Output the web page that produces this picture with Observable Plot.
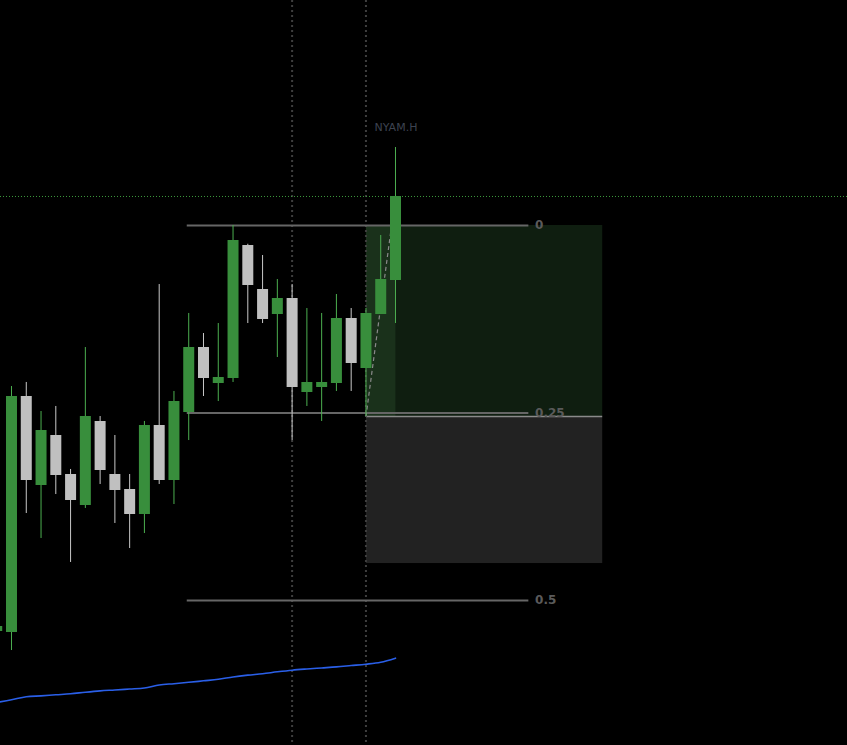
<!DOCTYPE html>
<html>
<head>
<meta charset="utf-8">
<script src="https://cdn.jsdelivr.net/npm/d3@7"></script>
<script src="https://cdn.jsdelivr.net/npm/@observablehq/plot@0.6"></script>
<style>
  html, body { margin: 0; padding: 0; background: #000; overflow: hidden; }
  #chart svg { display: block; }
</style>
</head>
<body>
<div id="chart"></div>
<script>
// ---- data ----
const idx   = [0,1,2,3,4,5,6,7,8,9,10,11,12,13,14,15,16,17,18,19,20,21,22,23,24,25,26,27];
const open  = [45.87,45.73,77.2,65.33,72,66.8,62.67,73.87,66.8,64.8,61.47,73.33,66,75.07,83.73,78.93,79.6,97.33,91.47,88.13,90.27,77.73,78.4,78.93,87.6,80.93,88.13,92.67];
const high  = [46.53,78.53,79.07,75.2,75.87,67.47,83.73,74.53,72,66.8,73.87,92.13,77.87,88.27,85.6,86.93,100,97.5,96,92.8,92.13,88.93,88.27,90.8,88.93,88.93,98.67,110.4];
const low   = [45.87,43.33,61.6,58.27,64.13,55.07,62.27,65.47,60.27,56.93,58.93,65.47,62.8,71.33,77.2,76.53,79.07,86.93,86.93,82.4,71.33,75.87,73.87,77.87,77.87,74.53,88.13,86.93];
const close = [46.53,77.2,66,72.67,66.67,63.33,74.53,67.33,64.67,61.47,73.33,66,76.53,83.73,79.6,79.73,98,92,87.47,90.27,78.4,79.07,79.07,87.6,81.6,88.27,92.8,103.87];
const maValues = [36.4,36.76,37.17,37.29,37.43,37.56,37.77,37.95,38.07,38.2,38.33,38.73,38.91,39.09,39.29,39.49,39.81,40.05,40.24,40.49,40.71,40.87,41.01,41.15,41.33,41.51,41.77,42.31];

const fibLabels = ["0", "0.25", "0.5"];
const fibPrices = [100, 75, 50];
const fibStart = 13, fibEnd = 36;

const posStart = 25, posEnd = 41, posNow = 27;
const entryPrice = 74.53, targetPrice = 100, stopPrice = 54.93;
const markedBars = [20, 25];
const symbol = "NYAM.H";

// ---- tables ----
const candles = idx.map((i, k) => ({i, open: open[k], high: high[k], low: low[k], close: close[k], up: close[k] >= open[k]}));
const ma = idx.map((i, k) => ({i, v: maValues[k]}));
const fibs = fibLabels.map((label, k) => ({label, price: fibPrices[k]}));
const lastClose = close[close.length - 1];

const upBody = "#388e3c", upWick = "#4caf50", downBody = "#c0c0c0", downWick = "#c8c8c8";

const chart = Plot.plot({
  width: 847,
  height: 745,
  margin: 0,
  style: {background: "#000", overflow: "visible"},
  x: {type: "linear", domain: [0.2552, 57.605], axis: null},
  y: {type: "linear", domain: [30.667, 130], axis: null},
  marks: [
    // position tool: profit zone, progress fill, loss zone
    Plot.rect([{}], {x1: posStart + 0.03, x2: posEnd + 0.03, y1: entryPrice, y2: targetPrice, fill: "#0f1e10"}),
    Plot.rect([{}], {x1: posStart + 0.03, x2: posNow + 0.03, y1: entryPrice, y2: targetPrice, fill: "#1a311b"}),
    Plot.rect([{}], {x1: posStart + 0.03, x2: posEnd + 0.03, y1: stopPrice, y2: entryPrice, fill: "#222222"}),
    Plot.ruleY([entryPrice], {x1: posStart + 0.03, x2: posEnd + 0.03, stroke: "#8a8a8a", strokeWidth: 1.5}),
    // vertical dotted markers
    Plot.ruleX(markedBars, {stroke: "#3e3e3e", strokeWidth: 2, strokeDasharray: "2,3"}),
    // fib levels
    Plot.ruleY(fibs, {y: "price", x1: fibStart - 0.1, x2: fibEnd + 0.03, stroke: "#666", strokeWidth: 2}),
    Plot.text(fibs, {x: fibEnd + 0.45, y: "price", text: "label", textAnchor: "start", fill: "#5a5a5a", fontSize: 12, fontWeight: "bold", fontFamily: "DejaVu Sans"}),
    // last price line
    Plot.ruleY([lastClose], {stroke: "#3c9a3c", strokeWidth: 1, strokeDasharray: "1,2"}),
    // dashed path from entry to current price
    Plot.link([{}], {x1: posStart, y1: entryPrice, x2: posNow, y2: lastClose, stroke: "#8a8a8a", strokeWidth: 1.2, strokeDasharray: "4,3"}),
    // moving average
    Plot.line(ma, {x: "i", y: "v", stroke: "#2a5fe8", strokeWidth: 1.6, curve: "monotone-x"}),
    // candles
    Plot.ruleX(candles, {x: "i", y1: "low", y2: "high", stroke: d => d.up ? upWick : downWick, strokeWidth: 1}),
    Plot.ruleX(candles, {x: "i", y1: "open", y2: "close", stroke: d => d.up ? upBody : downBody, strokeWidth: 11}),
    // symbol label
    Plot.text([symbol], {x: 25.58, y: 113.07, text: d => d, textAnchor: "start", fill: "#3d4350", fontSize: 11, fontFamily: "DejaVu Sans"})
  ]
});
document.getElementById("chart").appendChild(chart);
</script>
</body>
</html>
